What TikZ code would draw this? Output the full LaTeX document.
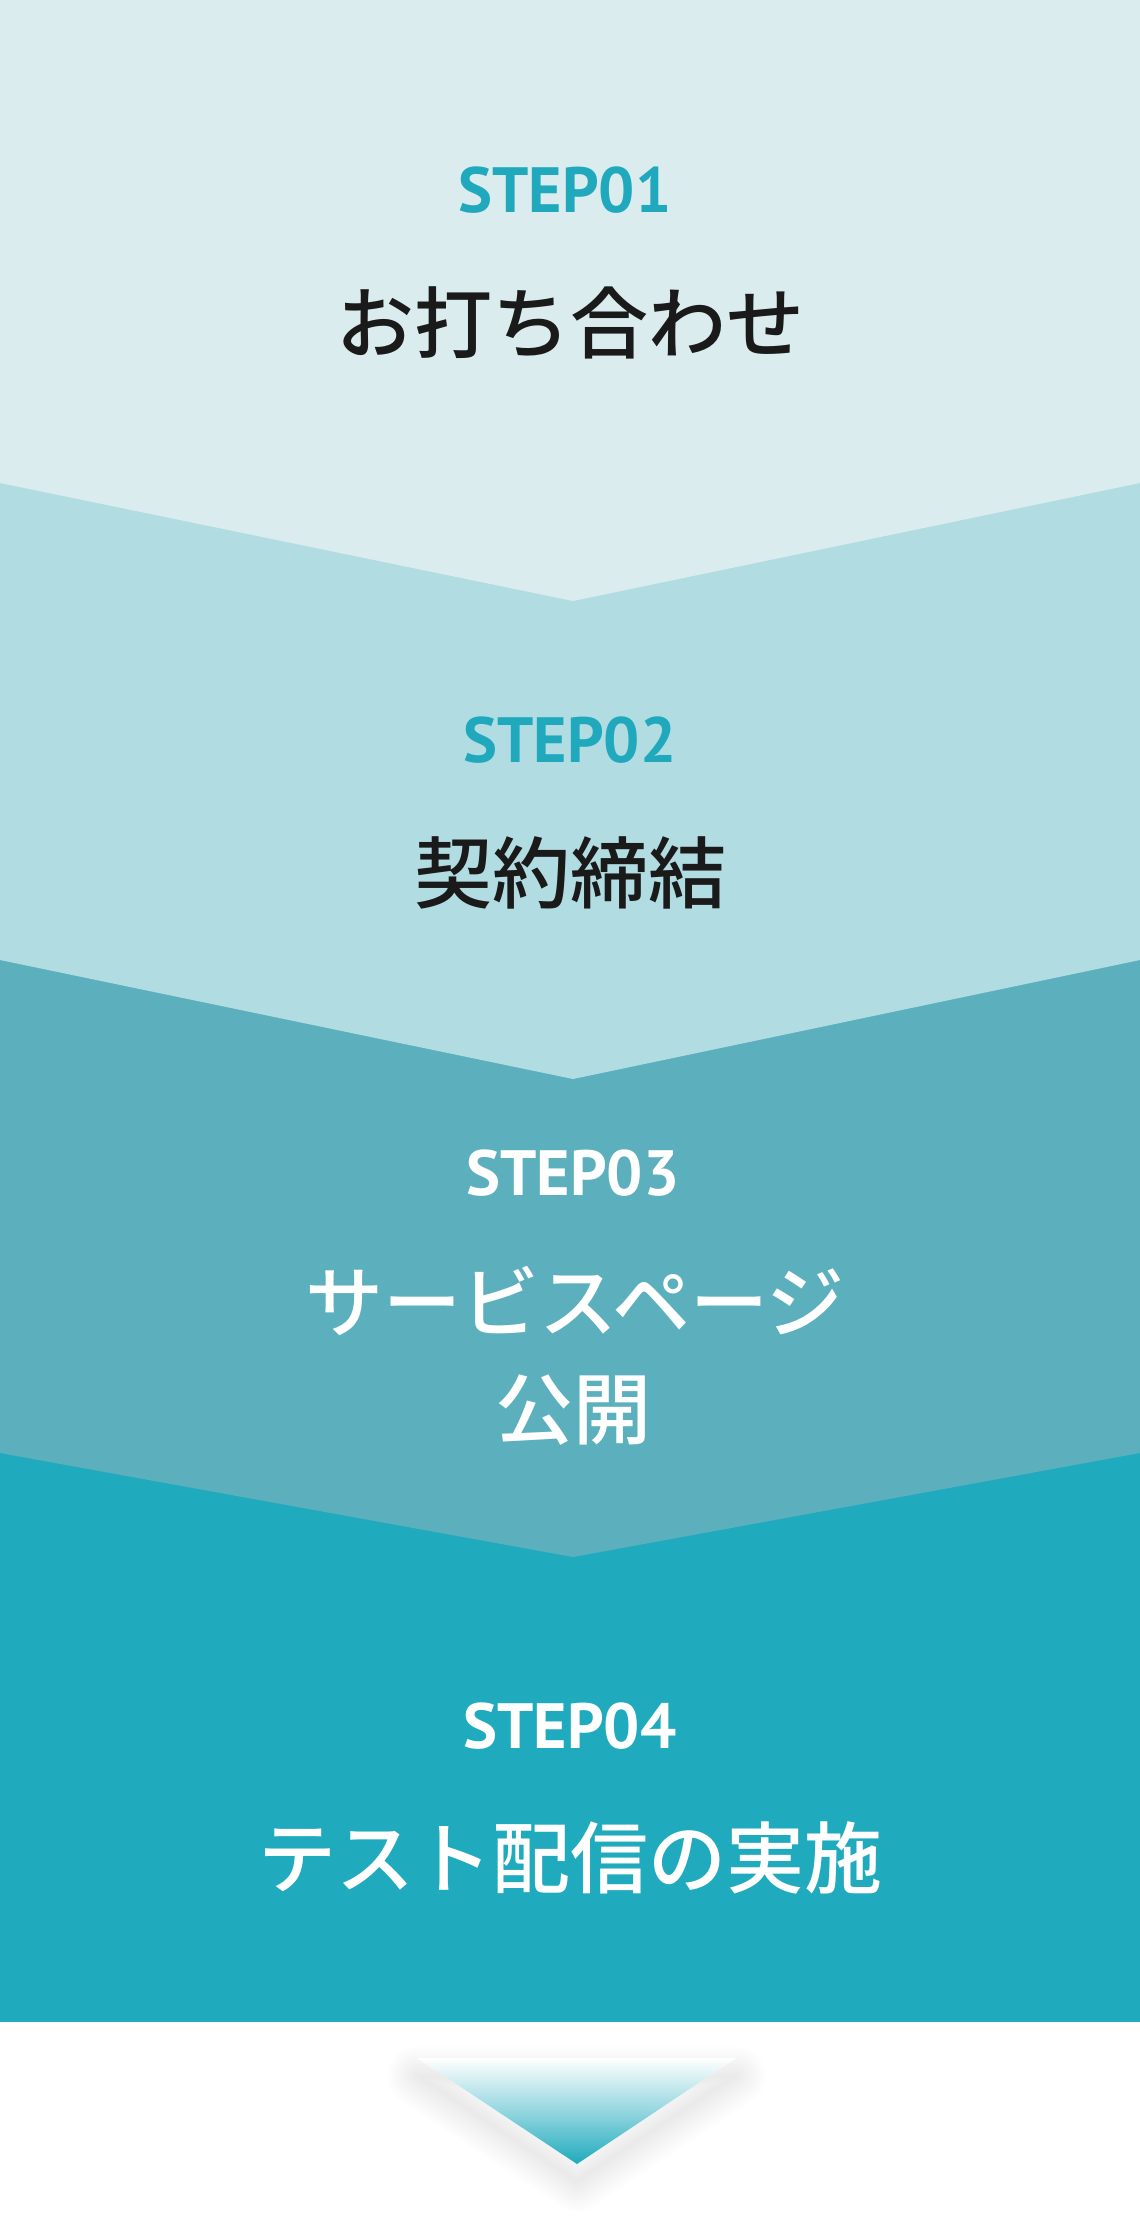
\documentclass[tikz,border=0pt]{standalone}
\usepackage{fontspec}
\newfontfamily\jpfont{Noto Sans CJK JP Medium}
\newfontfamily\stepfont{PT Sans}
\definecolor{bandA}{HTML}{DAECEE}
\definecolor{bandB}{HTML}{B1DCE2}
\definecolor{bandC}{HTML}{5CB0BE}
\definecolor{bandD}{HTML}{1FAABD}
\definecolor{tealtext}{HTML}{20A9BD}
\definecolor{darktext}{HTML}{1A1A1A}
\tikzset{
  steplabel/.style={anchor=base, inner sep=0pt, font=\stepfont\bfseries\fontsize{64}{64}\selectfont},
  titlelabel/.style={anchor=base, inner sep=0pt, align=center, font=\jpfont\fontsize{78}{107}\selectfont},
}
\newcommand\arrowshape{(417,2058) -- (736,2058) -- (577,2164) -- cycle}
\begin{document}
\begin{tikzpicture}[x=1pt,y=-1pt]
\useasboundingbox (0,0) rectangle (1140,2217);
\fill[white] (0,0) rectangle (1140,2217);
% bands
\fill[bandD] (0,1453) rectangle (1140,2022);
\fill[bandC] (0,960) -- (1140,960) -- (1140,1453) -- (573,1557) -- (0,1453) -- cycle;
\fill[bandB] (0,483) -- (1140,483) -- (1140,960) -- (573,1079) -- (0,960) -- cycle;
\fill[bandA] (0,0) -- (1140,0) -- (1140,483) -- (573,601) -- (0,483) -- cycle;
% arrow shadow
\begin{scope}[yshift=-18pt]
\foreach \w in {3,6,...,60}{
  \draw[black, opacity=0.0045, line width=\w pt, line join=round] \arrowshape;
}
\fill[black, opacity=0.0045] \arrowshape;
\end{scope}
\fill[white] \arrowshape;
\shade[top color=white, bottom color=bandD, middle color=bandD!48!white] \arrowshape;
% texts
\node[steplabel, text=tealtext] (s1) at (565,212) {STEP01};
\node[titlelabel, text=darktext] (t1) at (570,352) {お打ち合わせ};
\node[steplabel, text=tealtext] (s2) at (570,762) {STEP02};
\node[titlelabel, text=darktext] (t2) at (570,902) {契約締結};
\node[steplabel, text=white] (s3) at (573,1195) {STEP03};
\node[titlelabel, text=white, anchor=base] (t3) at (575,1331) {サービスページ};
\node[titlelabel, text=white] (t3b) at (573,1438) {公開};
\node[steplabel, text=white] (s4) at (570,1748) {STEP04};
\node[titlelabel, text=white] (t4) at (570,1887) {テスト配信の実施};
\end{tikzpicture}
\end{document}
